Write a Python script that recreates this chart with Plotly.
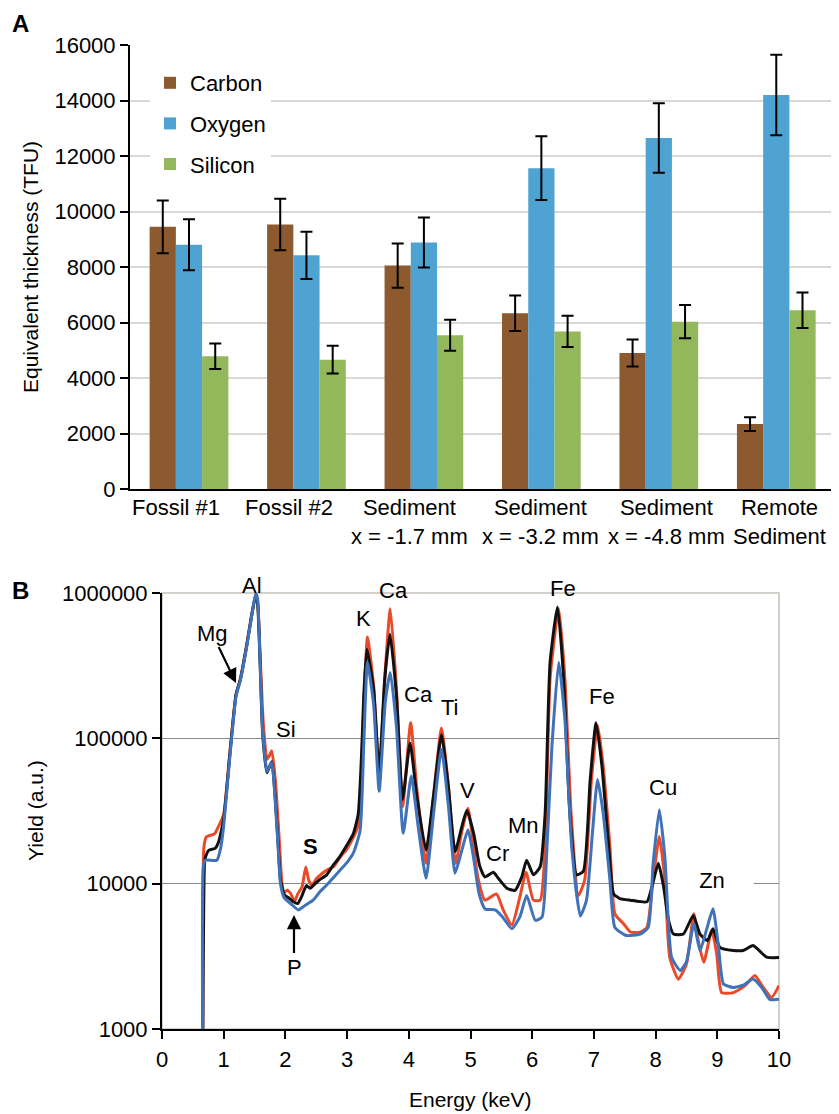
import plotly.graph_objects as go

# ---------------- Panel A data ----------------
categories = ["Fossil #1", "Fossil #2", "Sediment<br>x = -1.7 mm", "Sediment<br>x = -3.2 mm",
              "Sediment<br>x = -4.8 mm", "Remote<br>Sediment"]
carbon = [9450, 9530, 8050, 6330, 4900, 2340]
carbon_err = [950, 930, 800, 640, 490, 250]
oxygen = [8800, 8420, 8880, 11560, 12650, 14200]
oxygen_err = [920, 850, 900, 1150, 1250, 1450]
silicon = [4780, 4660, 5540, 5680, 6030, 6440]
silicon_err = [460, 500, 560, 560, 600, 640]

# ---------------- Panel B data ----------------
e_red = [0.66, 0.68, 0.72, 0.85, 0.90, 1.00, 1.10, 1.20, 1.27, 1.37, 1.45, 1.52, 1.55, 1.59, 1.64,
         1.70, 1.74, 1.78, 1.84, 1.90, 1.94, 1.98, 2.03, 2.08, 2.15, 2.20, 2.27, 2.33, 2.38, 2.43,
         2.50, 2.60, 2.70, 2.78, 2.90, 2.99, 3.08, 3.155, 3.20, 3.25, 3.29, 3.33, 3.43, 3.52, 3.62,
         3.70, 3.80, 3.90, 4.03, 4.13, 4.28, 4.40, 4.53, 4.64, 4.76, 4.86, 4.96, 5.05, 5.12, 5.235,
         5.42, 5.53, 5.67, 5.80, 5.90, 6.02, 6.13, 6.21, 6.29, 6.43, 6.53, 6.63, 6.75, 6.85, 6.96,
         7.06, 7.15, 7.26, 7.34, 7.48, 7.59, 7.75, 7.86, 7.96, 8.06, 8.15, 8.23, 8.37, 8.50, 8.62,
         8.69, 8.78, 8.91, 8.99, 9.07, 9.26, 9.45, 9.61, 9.72, 9.88, 10.0]
y_red = [500, 18000, 21000, 22000, 24000, 30000, 80000, 200000, 255000, 430000, 690000, 970000,
         870000, 380000, 130000, 72000, 76000, 82000, 50000, 20000, 10500, 8700, 9000, 8600, 7600,
         8500, 9500, 13000, 10500, 9800, 10800, 11800, 12600, 13100, 15500, 17100, 20000, 23400,
         27000, 100000, 260000, 498000, 230000, 55000, 300000, 780000, 220000, 34000, 128000, 45000,
         13800, 40000, 118000, 48000, 13800, 23000, 33000, 18000, 11000, 7700, 8500, 6600, 5200,
         8100, 12000, 7700, 7700, 18000, 257000, 780000, 257000, 30600, 8300, 10600, 52000, 123000,
         64600, 18000, 6200, 5300, 4650, 4640, 5000, 10600, 21100, 10600, 3100, 2200, 2800, 6200,
         4070, 2880, 4770, 3300, 1780, 1780, 1990, 2330, 2000, 1650, 1990]

e_black = [0.66, 0.69, 0.71, 0.76, 0.86, 0.92, 1.00, 1.10, 1.20, 1.27, 1.37, 1.45, 1.52, 1.55, 1.59,
           1.63, 1.70, 1.73, 1.78, 1.83, 1.885, 1.92, 1.98, 2.05, 2.13, 2.20, 2.26, 2.34, 2.40, 2.47,
           2.55, 2.67, 2.78, 2.88, 3.00, 3.10, 3.18, 3.24, 3.27, 3.32, 3.43, 3.52, 3.61, 3.695, 3.80,
           3.90, 4.02, 4.13, 4.28, 4.40, 4.53, 4.64, 4.75, 4.86, 4.94, 5.05, 5.15, 5.235, 5.37, 5.45,
           5.59, 5.72, 5.83, 5.91, 6.02, 6.13, 6.21, 6.29, 6.41, 6.51, 6.61, 6.72, 6.83, 6.94, 7.035,
           7.13, 7.24, 7.32, 7.42, 7.59, 7.86, 7.94, 8.045, 8.13, 8.21, 8.29, 8.45, 8.61, 8.72, 8.84,
           8.93, 9.04, 9.26, 9.42, 9.58, 9.80, 10.0]
y_black = [500, 14000, 15500, 17000, 17500, 19500, 28000, 78000, 200000, 255000, 430000, 690000,
           980000, 850000, 330000, 110000, 58000, 62000, 69000, 42000, 18000, 10600, 8400, 8000, 7500,
           7300, 8100, 9700, 9300, 9900, 10600, 11500, 13500, 15300, 18500, 22000, 30000, 88000,
           196000, 410000, 218000, 58000, 257000, 520000, 196000, 38000, 93000, 40000, 17000, 40000,
           106000, 47000, 16600, 24700, 32000, 22300, 13200, 11100, 12000, 10900, 9300, 9000, 11100,
           14500, 11500, 13100, 30600, 334000, 800000, 257000, 30600, 11500, 12200, 52000, 128000,
           64600, 18000, 8500, 7900, 7700, 7500, 9500, 13800, 9500, 5600, 4500, 4500, 6050, 4500,
           4070, 4900, 3650, 3470, 3470, 3750, 3120, 3100]

e_blue = [0.66, 0.67, 0.70, 0.89, 0.95, 1.00, 1.10, 1.20, 1.27, 1.37, 1.45, 1.52, 1.55, 1.59, 1.63,
          1.70, 1.73, 1.78, 1.83, 1.885, 1.92, 1.98, 2.10, 2.21, 2.30, 2.45, 2.56, 2.67, 2.88, 3.00,
          3.10, 3.21, 3.27, 3.33, 3.43, 3.52, 3.62, 3.70, 3.80, 3.91, 4.04, 4.15, 4.28, 4.40, 4.53,
          4.64, 4.75, 4.86, 4.96, 5.05, 5.14, 5.235, 5.40, 5.52, 5.67, 5.80, 5.91, 6.05, 6.16, 6.24,
          6.32, 6.43, 6.53, 6.64, 6.78, 6.88, 6.98, 7.06, 7.15, 7.26, 7.34, 7.53, 7.75, 7.88, 7.96,
          8.06, 8.15, 8.26, 8.40, 8.50, 8.62, 8.72, 8.83, 8.93, 9.02, 9.10, 9.26, 9.42, 9.58, 9.72,
          9.85, 10.0]
y_blue = [500, 13000, 14500, 14500, 17500, 25000, 75000, 195000, 250000, 420000, 680000, 1000000,
          900000, 340000, 115000, 59000, 63000, 68000, 40000, 17000, 10000, 8000, 7200, 6600, 7000,
          7700, 8800, 9800, 12300, 14000, 16200, 23000, 90000, 334000, 170000, 43300, 180000, 284000,
          120000, 22200, 55000, 25000, 10900, 30000, 84000, 35000, 11800, 17000, 23500, 15000, 8500,
          6700, 6600, 5900, 4900, 5900, 8300, 5600, 5900, 18000, 88500, 334000, 135000, 18000, 6000,
          7700, 23400, 52000, 30600, 10600, 5000, 4400, 4500, 5000, 13800, 32300, 15300, 3100, 2530,
          2900, 5300, 3470, 4900, 6730, 3650, 2040, 1930, 2000, 2210, 1930, 1600, 1600]

y2_ticks = [1000, 10000, 100000, 1000000]
x2_ticks = list(range(0, 11))

FONT = "Liberation Sans, Arial, sans-serif"
OFF = 8                      # page body margin
W, H = 839 - OFF, 1114 - OFF

fig = go.Figure()

err_style = dict(type="data", color="black", thickness=2, width=6, visible=True)
for name, vals, errs, col in [("Carbon", carbon, carbon_err, "#8c5a2e"),
                              ("Oxygen", oxygen, oxygen_err, "#4fa3d3"),
                              ("Silicon", silicon, silicon_err, "#93b75b")]:
    fig.add_trace(go.Bar(x=categories, y=vals, name=name, marker_color=col,
                         marker_line_width=0, legendgroup=name,
                         error_y=dict(array=errs, **err_style),
                         xaxis="x", yaxis="y"))

for ev, yv, col in [(e_red, y_red, "#ea4a2a"), (e_black, y_black, "#111111"), (e_blue, y_blue, "#3f72b8")]:
    fig.add_trace(go.Scatter(x=ev, y=yv, mode="lines",
                             line=dict(color=col, width=3, shape="spline", smoothing=0.5),
                             showlegend=False, xaxis="x2", yaxis="y2"))

def px(p):
    return (p - OFF) / W

def py(p):
    return 1 - (p - OFF) / H

fig.update_layout(
    width=W, height=H, margin=dict(l=0, r=0, t=0, b=0, autoexpand=False),
    paper_bgcolor="white", plot_bgcolor="white",
    font=dict(family=FONT, size=22, color="black"),
    barmode="group", bargap=0.33, bargroupgap=0,
    legend=dict(x=px(150), y=py(62), xanchor="left", yanchor="top", bgcolor="white",
                font=dict(size=22), traceorder="grouped", tracegroupgap=9),
    xaxis=dict(domain=[px(130), px(835)], anchor="y", type="category", showline=True,
               linecolor="black", linewidth=2, ticks="", showgrid=False, tickangle=0,
               showticklabels=False, automargin=False),
    yaxis=dict(domain=[py(489), py(45)], anchor="x", range=[0, 16000], dtick=2000,
               tickformat="d", automargin=False,
               showline=True, linecolor="black", linewidth=2, ticks="outside", ticklen=8,
               tickwidth=2, tickcolor="black", showgrid=True, gridcolor="#dcd8d3", gridwidth=2,
               zeroline=False, tickfont=dict(size=22)),
    xaxis2=dict(domain=[px(162), px(779)], anchor="y2", range=[0, 10], tickvals=x2_ticks,
                automargin=False,
                showline=True, linecolor="black", linewidth=2, ticks="outside", ticklen=8,
                tickwidth=2, tickcolor="black", showgrid=False, zeroline=False,
                tickfont=dict(size=22), ticklabelstandoff=2),
    yaxis2=dict(domain=[py(1029), py(593)], anchor="x2", type="log", range=[3, 6],
                tickvals=y2_ticks, ticktext=[str(v) for v in y2_ticks], automargin=False,
                showline=True, linecolor="black", linewidth=2, ticks="outside", ticklen=8,
                tickwidth=2, tickcolor="black", showgrid=True, gridcolor="#8a8a8a", gridwidth=1.2,
                zeroline=False, tickfont=dict(size=22)),
)

# category labels of panel A, tied to the category positions (slightly spread like the original)
label_shift = [-13, -17, -14, -1, 8, 3]
for cat, sh in zip(categories, label_shift):
    fig.add_annotation(text=cat, x=cat, y=0, xref="x", yref="y", xanchor="center",
                       yanchor="top", xshift=sh, yshift=-4, showarrow=False,
                       font=dict(size=22))

# light frame (top/right) of panel B
fig.add_shape(type="rect", xref="x2 domain", yref="y2 domain", x0=0, x1=1, y0=0, y1=1,
              line=dict(color="#d3cfca", width=2), layer="below")

def label(text, x, y, size=22, angle=0, **kw):
    fig.add_annotation(text=text, x=px(x), y=py(y), xref="paper", yref="paper",
                       xanchor="center", yanchor="middle", textangle=angle,
                       showarrow=False, font=dict(size=size), **kw)

# axis titles
label("Equivalent thickness (TFU)", 30, 267, size=21, angle=-90)
label("Yield (a.u.)", 35, 810, size=21, angle=-90)
label("Energy (keV)", 470, 1099, size=21)

# panel letters
fig.add_annotation(text="<b>A</b>", x=px(20), y=1, xref="paper", yref="paper",
                   xanchor="center", yanchor="top", showarrow=False, font=dict(size=24))
label("<b>B</b>", 20, 590, size=24)

# peak labels (pixel centres)
for t, xx, yy in [("Al", 252, 585), ("Si", 286, 729), ("<b>S</b>", 310, 846), ("K", 363, 618),
                  ("Ca", 393, 590), ("Ca", 418, 694), ("Ti", 450, 707), ("V", 468, 790),
                  ("Cr", 497, 853), ("Mn", 523, 825), ("Fe", 563, 588), ("Fe", 602, 696),
                  ("Cu", 663, 787)]:
    label(t, xx, yy)
label("Zn", 712, 880, bgcolor="white", width=80)

# arrows
for t, hx, hy, ax, ay in [("Mg", 236, 683, -24, -50), ("P", 294, 915, 0, 52)]:
    fig.add_annotation(text=t, x=px(hx), y=py(hy), xref="paper", yref="paper",
                       showarrow=True, ax=ax, ay=ay, arrowhead=2, arrowsize=1.3,
                       arrowwidth=2.2, arrowcolor="black", font=dict(size=22))

fig.write_html("out.html")
